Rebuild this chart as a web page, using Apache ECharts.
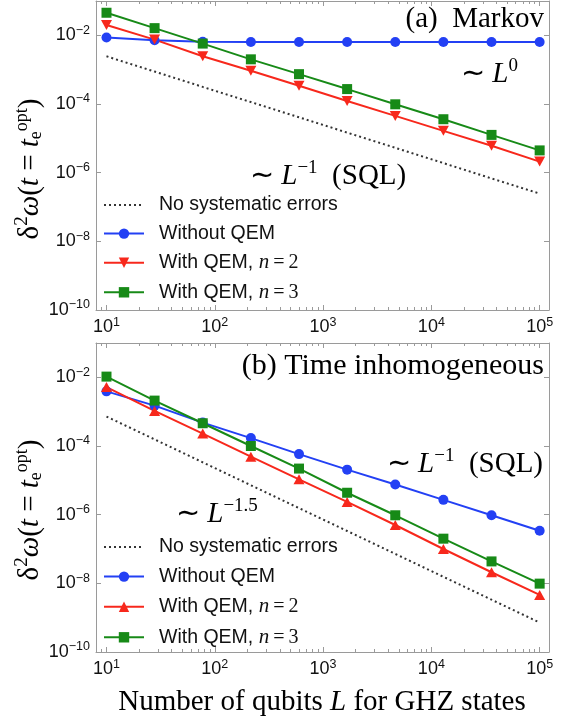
<!DOCTYPE html>
<html>
<head>
<meta charset="utf-8">
<script src="https://cdn.jsdelivr.net/npm/echarts@6/dist/echarts.min.js"></script>
<style>html,body{margin:0;padding:0;background:#fff}#c{width:564px;height:721px}</style>
</head>
<body>
<div id="c"></div>
<script>
// ---- data ----
const L = [10, 27.8, 77.4, 215.4, 599.5, 1668, 4642, 12915, 35938, 100000];
// (a) Markov
const aNoErr   = [2.45e-3, 8.8e-4, 3.15e-4, 1.14e-4, 4.1e-5, 1.47e-5, 5.3e-6, 1.9e-6, 6.8e-7, 2.45e-7];
const aWithout = [8.6e-3, 7.2e-3, 6.5e-3, 6.4e-3, 6.4e-3, 6.4e-3, 6.4e-3, 6.4e-3, 6.4e-3, 6.4e-3];
const aN2      = [2.0e-2, 7.5e-3, 2.45e-3, 9.3e-4, 3.4e-4, 1.22e-4, 4.5e-5, 1.65e-5, 6.1e-6, 2.1e-6];
const aN3      = [4.55e-2, 1.62e-2, 5.75e-3, 2.0e-3, 7.4e-4, 2.72e-4, 9.8e-5, 3.6e-5, 1.26e-5, 4.45e-6];
// (b) Time inhomogeneous
const bNoErr   = [7.2e-4, 1.56e-4, 3.35e-5, 7.2e-6, 1.55e-6, 3.35e-7, 7.2e-8, 1.55e-8, 3.34e-9, 7.2e-10];
const bWithout = [3.9e-3, 1.5e-3, 4.8e-4, 1.7e-4, 5.8e-5, 2.05e-5, 7.6e-6, 2.7e-6, 9.6e-7, 3.4e-7];
const bN2      = [5.2e-3, 1.05e-3, 2.3e-4, 4.9e-5, 1.07e-5, 2.35e-6, 5.0e-7, 1.0e-7, 2.1e-8, 4.6e-9];
const bN3      = [1.05e-2, 2.1e-3, 4.6e-4, 1.0e-4, 2.2e-5, 4.35e-6, 9.6e-7, 2.0e-7, 4.35e-8, 9.8e-9];
// tick values
const xMajor = [10, 100, 1000, 10000, 100000];
const xMinor = [8, 9, 20, 30, 40, 50, 60, 70, 80, 90, 200, 300, 400, 500, 600, 700, 800, 900,
  2000, 3000, 4000, 5000, 6000, 7000, 8000, 9000, 20000, 30000, 40000, 50000, 60000, 70000, 80000, 90000];
const yMajor = [1e-10, 1e-8, 1e-6, 1e-4, 1e-2];
const legendLabels = ['No systematic errors', 'Without QEM', 'With QEM, {i|n}{e|\u2009=\u20092}', 'With QEM, {i|n}{e|\u2009=\u20093}'];

// ---- style ----
const BLUE = '#2340f4', RED = '#f7281c', GREEN = '#178a17', DOT = '#333';
const SANS = 'Liberation Sans', SERIF = 'Liberation Serif';
const FRAME = '#9a9a9a';
const xMin = 8, xMax = 1.22e5, yMin = 1e-10, yMax = 1e-1;

function expLabel(v) {
  const e = Math.round(Math.log10(v));
  return '10{s|' + String(e).replace('-', '\u2212') + '}';
}
const labelRich = {
  s: { fontSize: 12.5, fontFamily: SANS, color: '#111', padding: [0, 0, 10, 0] }
};

function xAxes(grid) {
  const base = { type: 'log', logBase: 10, gridIndex: grid, min: xMin, max: xMax, splitLine: { show: false } };
  return [
    Object.assign({}, base, {
      position: 'bottom',
      axisLine: { show: true, lineStyle: { color: FRAME, width: 1 } },
      axisTick: { show: true, inside: true, length: 5, customValues: xMajor, lineStyle: { color: FRAME } },
      axisLabel: { show: true, customValues: xMajor, formatter: expLabel, margin: 6, color: '#111',
        fontFamily: SANS, fontSize: 18, rich: labelRich }
    }),
    Object.assign({}, base, {
      position: 'bottom',
      axisLine: { show: false },
      axisTick: { show: true, inside: true, length: 3, customValues: xMinor, lineStyle: { color: FRAME } },
      axisLabel: { show: false }
    }),
    Object.assign({}, base, {
      position: 'top',
      axisLine: { show: true, lineStyle: { color: FRAME, width: 1 } },
      axisTick: { show: true, inside: true, length: 5, customValues: xMajor, lineStyle: { color: FRAME } },
      axisLabel: { show: false }
    }),
    Object.assign({}, base, {
      position: 'top',
      axisLine: { show: false },
      axisTick: { show: true, inside: true, length: 3, customValues: xMinor, lineStyle: { color: FRAME } },
      axisLabel: { show: false }
    })
  ];
}
function yAxes(grid) {
  const base = { type: 'log', logBase: 10, gridIndex: grid, min: yMin, max: yMax, splitLine: { show: false } };
  return [
    Object.assign({}, base, {
      position: 'left',
      axisLine: { show: true, lineStyle: { color: FRAME, width: 1 } },
      axisTick: { show: true, inside: true, length: 5, customValues: yMajor, lineStyle: { color: FRAME } },
      axisLabel: { show: true, customValues: yMajor, formatter: expLabel, margin: 6, color: '#111',
        fontFamily: SANS, fontSize: 18, rich: labelRich }
    }),
    Object.assign({}, base, {
      position: 'right',
      axisLine: { show: true, lineStyle: { color: FRAME, width: 1 } },
      axisTick: { show: true, inside: true, length: 5, customValues: yMajor, lineStyle: { color: FRAME } },
      axisLabel: { show: false }
    })
  ];
}

const TRI_DOWN = 'path://M0,0 L10,0 L5,9 Z';
const TRI_UP = 'path://M5,0 L10,9 L0,9 Z';

function panelSeries(prefix, xi, yi, noErr, without, n2, n3, redSymbol) {
  const pts = arr => L.map((x, i) => [x, arr[i]]);
  const common = { type: 'line', xAxisIndex: xi, yAxisIndex: yi, animation: false, z: 3 };
  return [
    Object.assign({}, common, { name: prefix + '0', data: pts(noErr), symbol: 'none', showSymbol: false,
      lineStyle: { color: DOT, width: 2, type: [2, 3] }, itemStyle: { color: DOT } }),
    Object.assign({}, common, { name: prefix + '1', data: pts(without), symbol: 'circle', symbolSize: 10,
      lineStyle: { color: BLUE, width: 2 }, itemStyle: { color: BLUE } }),
    Object.assign({}, common, { name: prefix + '2', data: pts(n2), symbol: redSymbol, symbolSize: [11, 10],
      lineStyle: { color: RED, width: 2 }, itemStyle: { color: RED } }),
    Object.assign({}, common, { name: prefix + '3', data: pts(n3), symbol: 'rect', symbolSize: 10,
      lineStyle: { color: GREEN, width: 2 }, itemStyle: { color: GREEN } })
  ];
}

function legendFor(prefix, top, gap) {
  return {
    data: [
      { name: prefix + '0', itemStyle: { opacity: 0 } },
      prefix + '1', prefix + '2', prefix + '3'
    ],
    orient: 'vertical', left: 103, top: top, padding: 0,
    itemWidth: 40, itemHeight: 13, itemGap: gap,
    selectedMode: false,
    formatter: name => legendLabels[+name.slice(-1)],
    textStyle: {
      fontFamily: SANS, fontSize: 19.5, color: '#111', padding: [0, 0, 0, 10], lineHeight: 20,
      rich: {
        i: { fontFamily: SERIF, fontStyle: 'italic', fontSize: 21, color: '#111', lineHeight: 20 },
        e: { fontFamily: SERIF, fontSize: 20, color: '#111', lineHeight: 20 }
      }
    }
  };
}

const FS = 29;
const serifRich = {
  g: { fontFamily: SERIF, fontSize: FS, color: '#000' },
  b: { fontFamily: SERIF, fontSize: 30, color: '#000' },
  i: { fontFamily: SERIF, fontStyle: 'italic', fontSize: FS, color: '#000' },
  s: { fontFamily: SERIF, fontSize: 19, color: '#000', padding: [0, 0, 15, 0] },
  o: { fontFamily: SERIF, fontSize: 18, color: '#000', padding: [0, 0, 15, 0] },
  e: { fontFamily: SERIF, fontSize: 18, color: '#000', padding: [13, 0, 0, 0] }
};
function txt(x, y, text, align, rot) {
  return {
    type: 'text', x: x, y: y, rotation: rot || 0, z: 10,
    style: { text: text, rich: serifRich, align: align, verticalAlign: 'middle', fill: '#000',
      fontFamily: SERIF, fontSize: FS }
  };
}
const yTitle = '{g|\u03B4}{s|2}{i|\u03C9}{g|(}{i|t}{g| = }{i|t}{e|e}{o|opt}{g|)}';

const option = {
  backgroundColor: '#fff',
  animation: false,
  grid: [
    { left: 96, top: 1, width: 453, height: 309 },
    { left: 96, top: 343, width: 453, height: 309 }
  ],
  xAxis: xAxes(0).concat(xAxes(1)),
  yAxis: yAxes(0).concat(yAxes(1)),
  legend: [legendFor('a', 195, 8.6), legendFor('b', 537, 9.6)],
  series: panelSeries('a', 0, 0, aNoErr, aWithout, aN2, aN3, TRI_DOWN)
    .concat(panelSeries('b', 4, 2, bNoErr, bWithout, bN2, bN3, TRI_UP)),
  graphic: [
    txt(544, 19, '{g|(a)  Markov}', 'right'),
    txt(518, 74, '{g|\u223C }{i|L}{s|0}', 'right'),
    txt(250, 176, '{g|\u223C }{i|L}{s|\u22121}{g|  (SQL)}', 'left'),
    txt(544, 366, '{b|(b) Time inhomogeneous}', 'right'),
    txt(543, 464, '{g|\u223C }{i|L}{s|\u22121}{g|  (SQL)}', 'right'),
    txt(176, 514, '{g|\u223C }{i|L}{s|\u22121.5}', 'left'),
    txt(322, 702, '{g|Number of qubits }{i|L}{g| for GHZ states}', 'center'),
    txt(30, 169, yTitle, 'center', Math.PI / 2),
    txt(30, 510, yTitle, 'center', Math.PI / 2)
  ]
};

const chart = echarts.init(document.getElementById('c'), null, { renderer: 'canvas' });
chart.setOption(option);
</script>
</body>
</html>
